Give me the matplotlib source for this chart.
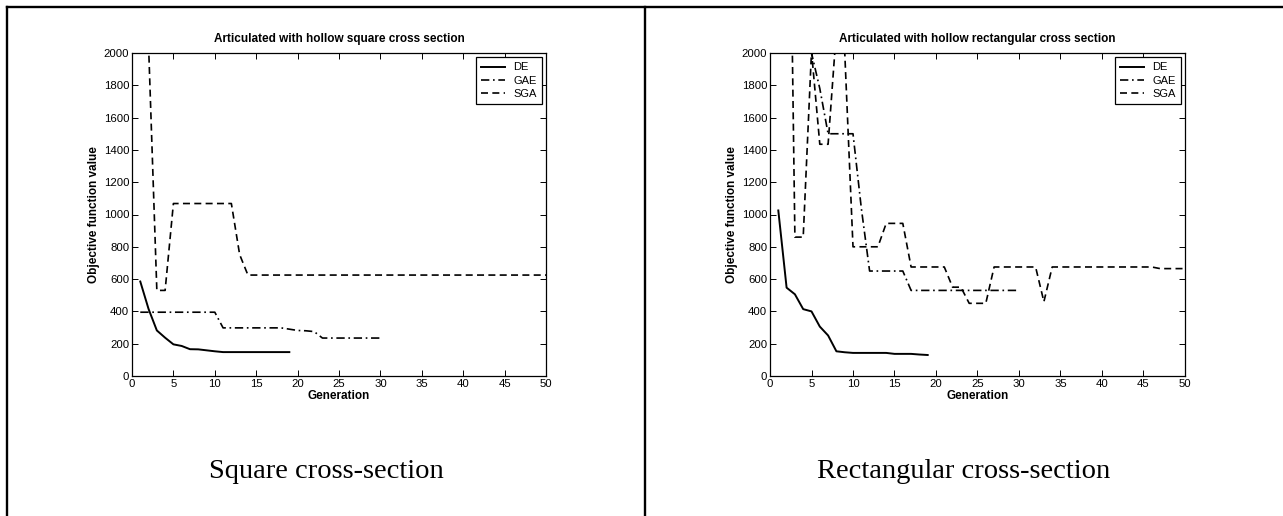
import numpy as np
import matplotlib
matplotlib.use('Agg')
import matplotlib.pyplot as plt
from matplotlib.lines import Line2D

plt.rcParams['font.family'] = ['Liberation Sans', 'DejaVu Sans']

# ======================================
# data
# ======================================
gen_de = list(range(1, 20))
gen_gae = list(range(1, 31))
gen_sga = list(range(1, 51))

# square cross section
sq_de = [585, 415, 282, 237, 196, 186, 166, 165, 159, 153, 148, 148, 148, 148,
         148, 148, 148, 148, 148]
sq_gae = [395] * 10 + [298] * 8 + [290, 282, 280, 275] + [235] * 8
sq_sga = [9000, 2050, 530, 530] + [1068] * 8 + [752, 625] + [625] * 36

# rectangular cross section
re_de = [1025, 547, 506, 414, 400, 306, 251, 153, 147, 143, 143, 143, 143, 143,
         137, 137, 137, 133, 130]
re_gae = [3000, 3000, 3000, 3000, 2000, 1780, 1500, 1500, 1500, 1500, 1040,
          650, 650, 650, 650, 650] + [530] * 14
re_sga = [5000, 4600, 860, 860, 2010, 1435, 1435, 2140, 2010, 800, 800, 800,
          800, 945, 945, 945, 675, 675, 675, 675, 675, 550, 550, 450, 450, 450,
          675, 675, 675, 675, 675, 675, 460] + [675] * 13 + [665] * 4

titles = ['Articulated with hollow square cross section',
          'Articulated with hollow rectangular cross section']
captions = ['Square cross-section', 'Rectangular cross-section']

W, H = 1283, 516
fig = plt.figure(figsize=(W / 100, H / 100), dpi=100)
fs_tick = 8.2
fs_lab = 8.5
fs_leg = 8.0


def draw(ax_rect, de, gae, sga, title):
    ax = fig.add_axes(ax_rect)
    ax.plot(gen_de, de, color='black', lw=1.4, label='DE')
    ax.plot(gen_gae, gae, color='black', lw=1.2, linestyle=(0, (5, 2.2, 1, 2.2)), label='GAE')
    ax.plot(gen_sga, sga, color='black', lw=1.2, linestyle=(0, (4.2, 2.6)), label='SGA')
    ax.set_xlim(0, 50)
    ax.set_ylim(0, 2000)
    ax.set_xticks(np.arange(0, 51, 5))
    ax.set_yticks(np.arange(0, 2001, 200))
    ax.tick_params(direction='in', length=4, width=0.7, top=True, right=True,
                   labelsize=fs_tick, pad=2)
    for s in ax.spines.values():
        s.set_linewidth(0.9)
    ax.set_title(title, fontsize=fs_lab, fontweight='bold', pad=8)
    ax.set_xlabel('Generation', fontsize=fs_lab, fontweight='bold', labelpad=1)
    ax.set_ylabel('Objective function value', fontsize=fs_lab, fontweight='bold', labelpad=3)
    leg = ax.legend(loc='upper right', fontsize=fs_leg, fancybox=False, framealpha=1,
                    edgecolor='black', handlelength=2.2, borderaxespad=0.4,
                    labelspacing=0.3, borderpad=0.45, handletextpad=0.7)
    leg.get_frame().set_linewidth(0.9)
    return ax


draw([132 / W, 1 - 376 / H, 414 / W, 323 / H], sq_de, sq_gae, sq_sga, titles[0])
draw([770 / W, 1 - 376 / H, 415 / W, 323 / H], re_de, re_gae, re_sga, titles[1])

# table frame around the two panels
frame = dict(color='black', lw=1.7, transform=fig.transFigure)
fig.add_artist(Line2D([7 / W, 1], [1 - 6.5 / H, 1 - 6.5 / H], **frame))
fig.add_artist(Line2D([7 / W, 7 / W], [0, 1 - 6.5 / H], **frame))
fig.add_artist(Line2D([645 / W, 645 / W], [0, 1 - 6.5 / H], **frame))

fig.text(326 / W, 1 - 471 / H, captions[0], ha='center', va='center',
         fontsize=20.5, family='Liberation Serif')
fig.text(964 / W, 1 - 471 / H, captions[1], ha='center', va='center',
         fontsize=20.5, family='Liberation Serif')

fig.savefig('out.png', dpi=100)
